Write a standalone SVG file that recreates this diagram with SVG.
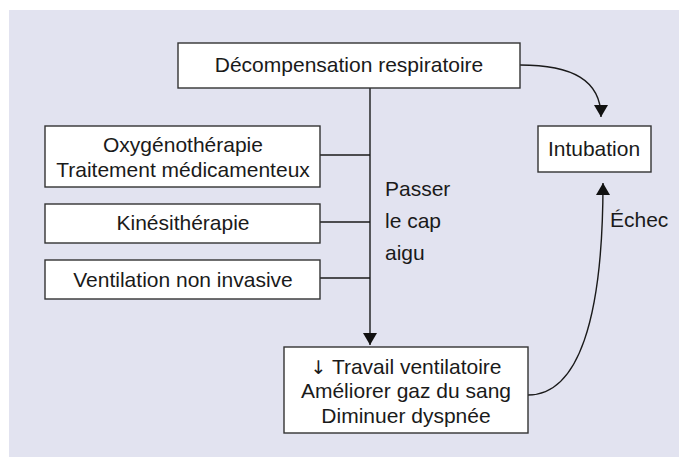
<svg xmlns="http://www.w3.org/2000/svg" width="679" height="457" viewBox="0 0 679 457">
<style>
.box{fill:#fff;stroke:#333;stroke-width:1.4}
.t{font-family:"Liberation Sans",Arial,sans-serif;font-size:21px;fill:#1a1a1a}
.c{text-anchor:middle}
.ar{font-family:"DejaVu Sans",sans-serif;font-size:19px}
.ln{fill:none;stroke:#1a1a1a;stroke-width:1.4}
</style>
<defs>
<marker id="ah" markerWidth="14" markerHeight="14" refX="12" refY="7" orient="auto" markerUnits="userSpaceOnUse">
<path d="M0,0 L12,7 L0,14 Z" fill="#111"/>
</marker>
</defs>
<rect width="679" height="457" fill="#fff"/>
<rect x="9" y="10" width="670" height="447" fill="#e2e3f0"/>
<g id="connectors">
<line class="ln" x1="370" y1="88" x2="370" y2="345" marker-end="url(#ah)"/>
<line class="ln" x1="320" y1="155" x2="370" y2="155"/>
<line class="ln" x1="320" y1="222" x2="370" y2="222"/>
<line class="ln" x1="320" y1="278" x2="370" y2="278"/>
<path class="ln" d="M520,65 C572,65 601,80 601,117" marker-end="url(#ah)"/>
<path class="ln" d="M528,395 C578,395 603,320 603,183" marker-end="url(#ah)"/>
<text class="t" x="385" y="196">Passer</text>
<text class="t" x="385" y="228">le cap</text>
<text class="t" x="385" y="260">aigu</text>
<text class="t" x="610" y="227">Échec</text>
</g>
<g id="decompensation">
<rect class="box" x="178" y="43" width="342" height="45"/>
<text class="t c" x="349" y="72">Décompensation respiratoire</text>
</g>
<g id="intubation">
<rect class="box" x="538" y="126" width="113" height="46"/>
<text class="t c" x="594" y="156">Intubation</text>
</g>
<g id="oxygenotherapie">
<rect class="box" x="45" y="126" width="275" height="61"/>
<text class="t c" x="183" y="152">Oxygénothérapie</text>
<text class="t c" x="183" y="177">Traitement médicamenteux</text>
</g>
<g id="kinesitherapie">
<rect class="box" x="45" y="204" width="275" height="39"/>
<text class="t c" x="183" y="230">Kinésithérapie</text>
</g>
<g id="vni">
<rect class="box" x="45" y="260" width="275" height="39"/>
<text class="t c" x="183" y="287">Ventilation non invasive</text>
</g>
<g id="objectifs">
<rect class="box" x="284" y="347" width="244" height="86"/>
<text class="t c" x="406" y="374"><tspan class="ar">↓</tspan> Travail ventilatoire</text>
<text class="t c" x="406" y="398">Améliorer gaz du sang</text>
<text class="t c" x="406" y="423">Diminuer dyspnée</text>
</g>
</svg>
